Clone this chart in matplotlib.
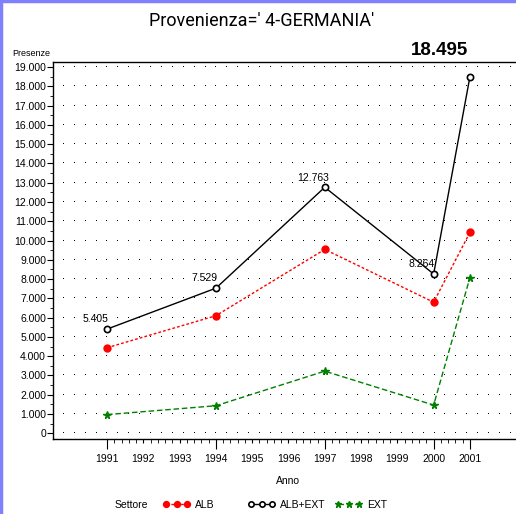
import numpy as np
import matplotlib
matplotlib.use('Agg')
import matplotlib.pyplot as plt
from matplotlib.lines import Line2D
from matplotlib.ticker import FuncFormatter, MultipleLocator

years = [1991, 1994, 1997, 2000, 2001]
alb = [4440, 6100, 9540, 6800, 10420]
alb_ext = [5405, 7529, 12763, 8264, 18495]
ext = [970, 1430, 3225, 1465, 8075]
series_names = ['ALB', 'ALB+EXT', 'EXT']
title = "Provenienza=' 4-GERMANIA'"

plt.rcParams['font.family'] = ['Liberation Sans', 'DejaVu Sans']


def itnum(v):
    return f"{int(round(v)):,}".replace(',', '.')


fig = plt.figure(figsize=(5.16, 5.14), dpi=100)
ax = fig.add_axes([53 / 516, 1 - 439 / 514, 1 - 53 / 516, (439 - 62) / 514])

x0, x1 = 1989.51, 2002.27
ax.set_xlim(x0, x1)
ax.set_ylim(-295, 19260)

# dotted grid: one pixel dot every ~0.3 year on each 1000 row
gx, gy = np.meshgrid(np.arange(1989.78, x1, 0.3005), np.arange(0, 19001, 1000))
ax.plot(gx.ravel(), gy.ravel(), ',', color='black', zorder=1)

ax.yaxis.set_major_locator(MultipleLocator(1000))
ax.yaxis.set_minor_locator(MultipleLocator(500))

ax.plot(years, alb, color='#ff0000', lw=1, linestyle=(0, (2, 1.5)), marker='o',
        ms=5, mfc='#ff0000', mec='#ff0000', label=series_names[0], zorder=3)
ax.plot(years, alb_ext, color='black', lw=1, linestyle='-', marker='o',
        ms=4.5, mfc='white', mec='black', mew=1.2, label=series_names[1], zorder=3)
ax.plot(years, ext, color='#008000', lw=1, linestyle=(0, (4, 2)), marker='*',
        ms=5.5, mfc='#008000', mec='#008000', label=series_names[2], zorder=3)

for i, (x, y) in enumerate(zip(years, alb_ext)):
    if i == len(years) - 1:
        ax.annotate(itnum(y), (x, y), xytext=(-22, 19), textcoords='offset points',
                    ha='center', va='center', fontsize=13.5, fontweight='bold',
                    annotation_clip=False)
    else:
        ax.annotate(itnum(y), (x, y), xytext=(-8.5, 7), textcoords='offset points',
                    ha='center', va='center', fontsize=7.5)

ax.yaxis.set_major_formatter(FuncFormatter(lambda v, p: itnum(v)))
ax.tick_params(axis='y', which='major', length=4, labelsize=7.5, pad=1)
ax.tick_params(axis='y', which='minor', length=2)

all_years = list(range(1991, 2002))
ax.set_xticks(all_years)
ax.set_xticklabels([str(y) for y in all_years])
ax.set_xticks(np.arange(1991, 2001.01, 0.2), minor=True)
ax.tick_params(axis='x', which='major', length=3, labelsize=7.5, pad=8)
ax.tick_params(axis='x', which='minor', length=3)
for t, y in zip(ax.xaxis.get_major_ticks(), all_years):
    if y in years:
        t.tick1line.set_markersize(7)

ax.spines['right'].set_visible(False)
for s in ['left', 'bottom', 'top']:
    ax.spines[s].set_linewidth(1)

fig.text(262 / 516, 1 - 21 / 514, title, ha='center', va='center', fontsize=13,
         family=['Roboto', 'DejaVu Sans'], color='black')
fig.text(12 / 516, 1 - 54 / 514, 'Presenze', ha='left', va='center', fontsize=6.5)
fig.text((53 + (1996 - x0) * 36.27) / 516, 1 - 481 / 514, 'Anno', ha='center',
         va='center', fontsize=7.5)

fig.text(131 / 516, 1 - 505 / 514, 'Settore', ha='center', va='center', fontsize=7.5)
handles, labels = ax.get_legend_handles_labels()
for h, lab, xp in zip(handles, labels, [163, 248, 335]):
    fig.legend([h], [lab], loc='center left', bbox_to_anchor=(xp / 516, 1 - 505 / 514),
               frameon=False, fontsize=7.5, numpoints=3, handlelength=2.6,
               handletextpad=0.5, borderaxespad=0, borderpad=0, markerscale=0.85)

fig.add_artist(Line2D([0.002, 0.002], [0, 1], color='#8080ff', lw=2.5, transform=fig.transFigure))
fig.add_artist(Line2D([0, 1], [0.998, 0.998], color='#8080ff', lw=2.5, transform=fig.transFigure))

fig.savefig('out.png', dpi=100)
